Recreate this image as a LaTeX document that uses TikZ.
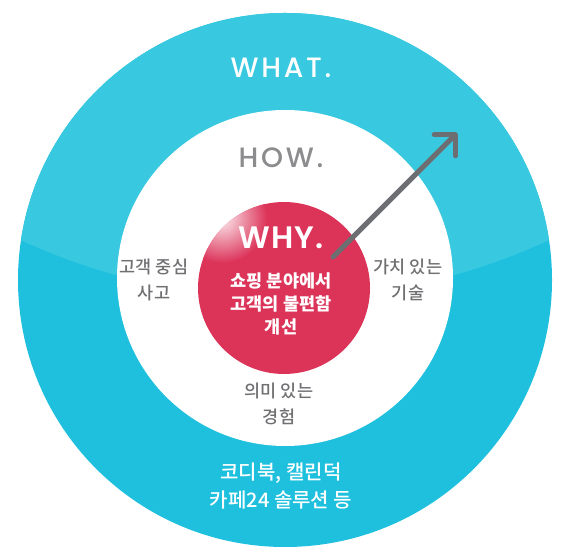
\documentclass[tikz,border=0pt]{standalone}
\usepackage{fontspec}
\setmainfont{Poppins}
\newfontfamily\eng[LetterSpace=10]{Poppins Medium}
\newfontfamily\engb[LetterSpace=4]{Poppins SemiBold}
\newfontfamily\kr{Noto Sans CJK KR}
\newfontfamily\krm{Noto Sans CJK KR Medium}
\usetikzlibrary{arrows.meta}
\definecolor{whattop}{HTML}{38C8E0}
\definecolor{whatlow}{HTML}{1FC0DE}
\definecolor{whyred}{HTML}{DC3359}
\definecolor{howgray}{HTML}{8C8C8E}
\definecolor{txtgray}{HTML}{707073}
\definecolor{arrowgray}{HTML}{6D6E71}

\begin{document}
\begin{tikzpicture}[x=1pt,y=1pt,every node/.style={align=center, inner sep=0pt},
  title/.style={font=\eng\fontsize{28}{28}\selectfont},
  label/.style={text=txtgray, font=\krm\fontsize{17.5}{26}\selectfont}]
  \useasboundingbox (0,0) rectangle (572,556);
  % rings
  \coordinate (c) at (285,276);
  \fill[whatlow] (c) circle (267);
  \begin{scope}
    \clip (c) circle (267);
    \fill[whattop] (285,888) circle (630);
  \end{scope}
  \fill[white] (285,278) circle (168);
  \fill[whyred] (284,268) circle (86);
  \begin{scope}
    \clip (284,268) circle (86);
    \shade[inner color=white!90!whyred, outer color=whyred] (222,338) circle (45);
  \end{scope}
  % texts
  \node[title, text=white] (what) at (281,488) {WHAT.};
  \node[title, text=howgray] (how) at (281,398) {HOW.};
  \node[text=white, font=\engb\fontsize{31}{31}\selectfont] (why) at (281,318) {WHY.};
  \node[text=white, font=\kr\bfseries\fontsize{17.5}{23}\selectfont] (cause) at (281,252) {쇼핑 분야에서\\고객의 불편함\\개선};
  \node[label] (think) at (154,276) {고객 중심\\사고};
  \node[label] (tech) at (408,276) {가치 있는\\기술};
  \node[label] (exp) at (279,152) {의미 있는\\경험};
  \node[text=white, font=\krm\fontsize{20}{28}\selectfont] (prod) at (281,70) {코디북, 캘린덕\\카페24 솔루션 등};
  % arrow
  \coordinate (from) at (333,299);
  \coordinate (to) at (457,423);
  \draw[arrowgray, line width=5pt, line cap=round, -{Straight Barb[angle=90:21pt, round]}] (from) -- (to);
\end{tikzpicture}
\end{document}
